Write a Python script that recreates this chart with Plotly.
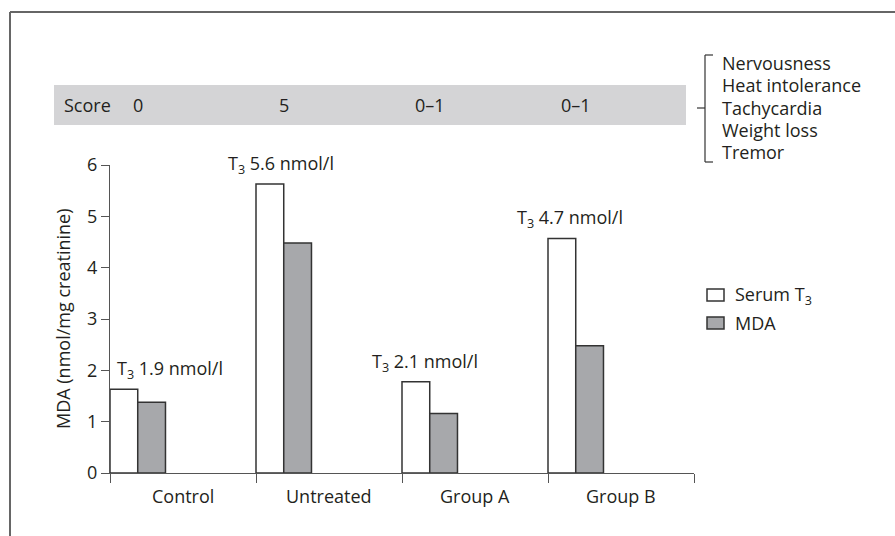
import plotly.graph_objects as go

categories = ["Control", "Untreated", "Group A", "Group B"]
serum_t3_bar = [1.63, 5.63, 1.78, 4.57]
mda = [1.38, 4.48, 1.16, 2.48]
t3_labels = ["1.9", "5.6", "2.1", "4.7"]
scores = ["0", "5", "0–1", "0–1"]
symptoms = ["Nervousness", "Heat intolerance", "Tachycardia", "Weight loss", "Tremor"]
y_ticks = [0, 1, 2, 3, 4, 5, 6]

FONT = "Open Sans"
TXT = "#231f20"
FS = 18

# plot area geometry (pixels)
W, H = 895, 536
L, R, T, B = 110, 694, 165, 473
pw, ph = R - L, B - T
YMAX = 6

def px(x):
    return (x - L) / pw

def py(y):
    return (B - y) / ph

n = len(categories)
bw = 0.19
x_white = [i + bw / 2 for i in range(n)]
x_gray = [i + 1.5 * bw for i in range(n)]

fig = go.Figure()
fig.add_trace(go.Bar(x=x_white, y=serum_t3_bar, width=bw, name="Serum T3",
                     marker=dict(color="white", line=dict(color="#333333", width=1.5)),
                     showlegend=False, hoverinfo="skip"))
fig.add_trace(go.Bar(x=x_gray, y=mda, width=bw, name="MDA",
                     marker=dict(color="#a7a8ab", line=dict(color="#333333", width=1.5)),
                     showlegend=False, hoverinfo="skip"))

ann = []
# T3 labels above white bars
label_dx = [0.41, 1.17, 2.16, 3.15]
for i in range(n):
    ann.append(dict(x=label_dx[i], y=(serum_t3_bar[i] + 0.38) / YMAX, xref="x", yref="paper",
                    text=f"T<sub>3</sub> {t3_labels[i]} nmol/l", showarrow=False,
                    font=dict(size=FS, color=TXT, family=FONT), xanchor="center", yanchor="middle"))

# category labels
for i, c in enumerate(categories):
    ann.append(dict(x=i + 0.5, y=py(496), xref="x", yref="paper", text=c, showarrow=False,
                    font=dict(size=FS, color=TXT, family=FONT), xanchor="center", yanchor="middle"))

# score band
shapes = [dict(type="rect", xref="paper", yref="paper", x0=px(54), x1=px(686),
               y0=py(125), y1=py(85), fillcolor="#d4d4d6", line=dict(width=0), layer="below")]
ann.append(dict(x=px(62), y=py(105), xref="paper", yref="paper", text="Score", showarrow=False,
                font=dict(size=FS, color=TXT, family=FONT), xanchor="left", yanchor="middle"))
for i, s in enumerate(scores):
    ann.append(dict(x=i + bw, y=py(105), xref="x", yref="paper", text=s, showarrow=False,
                    font=dict(size=FS, color=TXT, family=FONT), xanchor="center", yanchor="middle"))

# bracket
lc = "#333333"
shapes += [
    dict(type="line", xref="paper", yref="paper", x0=px(705), x1=px(705), y0=py(55), y1=py(162), line=dict(color=lc, width=1.2)),
    dict(type="line", xref="paper", yref="paper", x0=px(705), x1=px(713), y0=py(55), y1=py(55), line=dict(color=lc, width=1.2)),
    dict(type="line", xref="paper", yref="paper", x0=px(705), x1=px(713), y0=py(162), y1=py(162), line=dict(color=lc, width=1.2)),
    dict(type="line", xref="paper", yref="paper", x0=px(697), x1=px(705), y0=py(108), y1=py(108), line=dict(color=lc, width=1.2)),
]
sym_y = [63, 85, 108, 130, 152]
for s, yy in zip(symptoms, sym_y):
    ann.append(dict(x=px(720), y=py(yy), xref="paper", yref="paper", text=s, showarrow=False,
                    font=dict(size=FS, color=TXT, family=FONT), xanchor="left", yanchor="middle"))

# manual legend
leg = [("Serum T<sub>3</sub>", "white", 295), ("MDA", "#a7a8ab", 323)]
for txt, col, yy in leg:
    shapes.append(dict(type="rect", xref="paper", yref="paper", x0=px(707), x1=px(724),
                       y0=py(yy + 6), y1=py(yy - 6), fillcolor=col, line=dict(color="#333333", width=1.5)))
    ann.append(dict(x=px(733), y=py(yy), xref="paper", yref="paper", text=txt, showarrow=False,
                    font=dict(size=FS, color=TXT, family=FONT), xanchor="left", yanchor="middle"))

# y-axis title
ann.append(dict(x=px(63), y=py(319), xref="paper", yref="paper", text="MDA (nmol/mg creatinine)",
                textangle=-90, showarrow=False, font=dict(size=FS, color=TXT, family=FONT),
                xanchor="center", yanchor="middle"))

# outer frame (top and left)
shapes += [
    dict(type="line", xref="paper", yref="paper", x0=px(10), x1=px(900), y0=py(12), y1=py(12), line=dict(color="#666666", width=2)),
    dict(type="line", xref="paper", yref="paper", x0=px(10), x1=px(10), y0=py(12), y1=py(540), line=dict(color="#666666", width=2)),
]

fig.update_layout(
    width=W, height=H,
    margin=dict(l=L, r=W - R, t=T, b=H - B, pad=0),
    paper_bgcolor="white", plot_bgcolor="white",
    barmode="overlay",
    showlegend=False,
    font=dict(family=FONT, size=FS, color=TXT),
    shapes=shapes, annotations=ann,
    xaxis=dict(range=[0, n], showgrid=False, zeroline=False, showline=True, linecolor="#555555", linewidth=1.2,
               tickmode="array", tickvals=list(range(n + 1)), showticklabels=False,
               ticks="outside", ticklen=9, tickcolor="#555555", tickwidth=1.2, fixedrange=True),
    yaxis=dict(range=[0, YMAX], showgrid=False, zeroline=False, showline=True, linecolor="#555555", linewidth=1.2,
               tickmode="array", tickvals=y_ticks, ticks="outside", ticklen=8, tickcolor="#555555", tickwidth=1.2,
               tickfont=dict(size=FS, color=TXT, family=FONT), fixedrange=True),
)

fig.write_html("out.html", config={"displayModeBar": False},
               post_script="document.body.style.margin='0';document.body.style.overflow='hidden';")
